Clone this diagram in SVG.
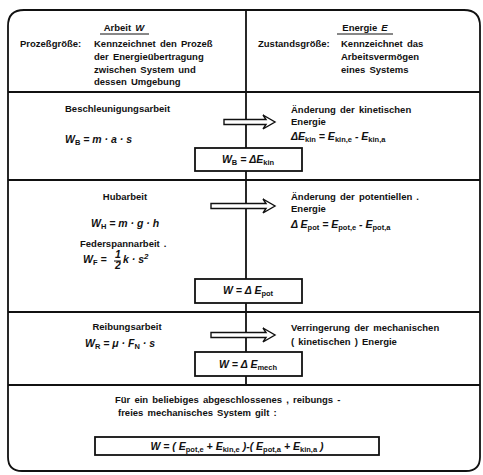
<svg xmlns="http://www.w3.org/2000/svg" width="483" height="475" viewBox="0 0 483 475">
<style>
.t{font-family:"Liberation Sans",Arial,sans-serif;font-weight:bold;font-size:9.5px;fill:#111;word-spacing:1.5px}
.f{font-family:"Liberation Sans",Arial,sans-serif;font-weight:bold;font-style:italic;font-size:10.5px;fill:#111}
.s{font-size:7.5px;font-style:normal}
.ln{stroke:#111;stroke-width:1.8;fill:none}
.box{fill:#fff;stroke:#111;stroke-width:1.8}
.arr{fill:#fff;stroke:#111;stroke-width:1.4;stroke-linejoin:miter}
</style>
<rect width="483" height="475" fill="#fff"/>
<g id="frame">
<path class="ln" d="M8,457 L8,26 Q8,10 24,10 L464,10 Q480,10 480,26 L480,457 Q480,471 466,471 L22,471 Q8,471 8,457 Z" stroke-width="2.2"/>
</g>
<g id="connectors">
<line class="ln" x1="246" y1="10" x2="246" y2="385"/>
<line class="ln" x1="8" y1="92" x2="480" y2="92"/>
<line class="ln" x1="8" y1="180" x2="480" y2="180"/>
<line class="ln" x1="8" y1="312" x2="480" y2="312"/>
<line class="ln" x1="8" y1="385" x2="480" y2="385"/>
<path class="arr" d="M224,119.5 L266,119.5 L263,115 L275,122 L263,129 L266,124.5 L224,124.5 Z"/>
<path class="arr" d="M211,203.5 L266,203.5 L263,199 L275,206 L263,213 L266,208.5 L211,208.5 Z"/>
<path class="arr" d="M211,332.5 L266,332.5 L263,328 L275,335 L263,342 L266,337.5 L211,337.5 Z"/>
</g>
<g id="header-arbeit">
<text class="t" x="124" y="31" text-anchor="middle" font-size="10">Arbeit <tspan font-style="italic">W</tspan></text>
<line x1="100" y1="34" x2="149" y2="34" stroke="#111" stroke-width="1"/>
<text class="t" x="20" y="47">Prozeßgröße:</text>
<text class="t" x="94" y="47">Kennzeichnet den Prozeß</text>
<text class="t" x="94" y="60">der Energieübertragung</text>
<text class="t" x="94" y="73">zwischen System und</text>
<text class="t" x="94" y="85">dessen Umgebung</text>
</g>
<g id="header-energie">
<text class="t" x="365" y="31" text-anchor="middle" font-size="10">Energie <tspan font-style="italic">E</tspan></text>
<line x1="337" y1="34" x2="393" y2="34" stroke="#111" stroke-width="1"/>
<text class="t" x="258" y="47">Zustandsgröße:</text>
<text class="t" x="341" y="47">Kennzeichnet das</text>
<text class="t" x="341" y="60">Arbeitsvermögen</text>
<text class="t" x="341" y="73">eines Systems</text>
</g>
<g id="beschleunigung">
<text class="t" x="65" y="112">Beschleunigungsarbeit</text>
<text class="f" x="65" y="143">W<tspan class="s" dy="2">B</tspan><tspan dy="-2"> = m · a · s</tspan></text>
</g>
<g id="kinetisch">
<text class="t" x="291" y="113">Änderung der kinetischen</text>
<text class="t" x="291" y="125">Energie</text>
<text class="f" x="291" y="140">ΔE<tspan class="s" dy="2">kin</tspan><tspan dy="-2"> = E</tspan><tspan class="s" dy="2">kin,e</tspan><tspan dy="-2"> - E</tspan><tspan class="s" dy="2">kin,a</tspan></text>
</g>
<g id="box-kin">
<rect class="box" x="195" y="148" width="107" height="23"/>
<text class="f" x="248" y="163" text-anchor="middle">W<tspan class="s" dy="2">B</tspan><tspan dy="-2"> = ΔE</tspan><tspan class="s" dy="2">kin</tspan></text>
</g>
<g id="hub">
<text class="t" x="125" y="200" text-anchor="middle">Hubarbeit</text>
<text class="f" x="91" y="227">W<tspan class="s" dy="2">H</tspan><tspan dy="-2"> = m · g · h</tspan></text>
<text class="t" x="80" y="247">Federspannarbeit .</text>
<text class="f" x="83" y="263">W<tspan class="s" dy="2">F</tspan><tspan dy="-2"> =</tspan></text>
<text class="f" x="115" y="258" font-size="7.5" font-style="normal">1</text>
<line x1="114" y1="261" x2="121" y2="261" stroke="#111" stroke-width="1"/>
<text class="f" x="115" y="269" font-size="7.5" font-style="normal">2</text>
<text class="f" x="123" y="263">k · s<tspan font-size="8" dy="-4">2</tspan></text>
</g>
<g id="potentiell">
<text class="t" x="291" y="200">Änderung der potentiellen .</text>
<text class="t" x="291" y="212">Energie</text>
<text class="f" x="291" y="228">Δ E<tspan class="s" dy="2">pot</tspan><tspan dy="-2"> = E</tspan><tspan class="s" dy="2">pot,e</tspan><tspan dy="-2"> - E</tspan><tspan class="s" dy="2">pot,a</tspan></text>
</g>
<g id="box-pot">
<rect class="box" x="195" y="279" width="107" height="24"/>
<text class="f" x="248" y="294" text-anchor="middle">W = Δ E<tspan class="s" dy="2">pot</tspan></text>
</g>
<g id="reibung">
<text class="t" x="127" y="330" text-anchor="middle">Reibungsarbeit</text>
<text class="f" x="85" y="347">W<tspan class="s" dy="2">R</tspan><tspan dy="-2"> = μ · F</tspan><tspan class="s" dy="2">N</tspan><tspan dy="-2"> · s</tspan></text>
</g>
<g id="mechanisch">
<text class="t" x="291" y="331">Verringerung der mechanischen</text>
<text class="t" x="291" y="345">( kinetischen ) Energie</text>
</g>
<g id="box-mech">
<rect class="box" x="195" y="352" width="107" height="24"/>
<text class="f" x="248" y="368" text-anchor="middle">W = Δ E<tspan class="s" dy="2">mech</tspan></text>
</g>
<g id="gesamt">
<text class="t" x="115" y="403">Für ein beliebiges abgeschlossenes , reibungs -</text>
<text class="t" x="118" y="416">freies mechanisches System gilt :</text>
<rect class="box" x="95" y="437" width="284" height="18"/>
<text class="f" x="237" y="450" text-anchor="middle">W = ( E<tspan class="s" dy="2">pot,e</tspan><tspan dy="-2"> + E</tspan><tspan class="s" dy="2">kin,e</tspan><tspan dy="-2"> )-( E</tspan><tspan class="s" dy="2">pot,a</tspan><tspan dy="-2"> + E</tspan><tspan class="s" dy="2">kin,a</tspan><tspan dy="-2"> )</tspan></text>
</g>
</svg>
